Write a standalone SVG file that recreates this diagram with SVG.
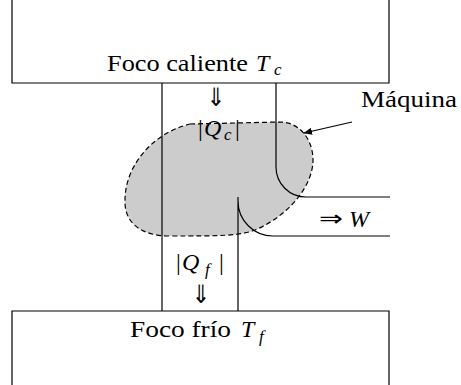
<svg xmlns="http://www.w3.org/2000/svg" width="461" height="385" viewBox="0 0 461 385">
<style>
.ln{fill:none;stroke:#000;stroke-width:1.2}
.t{font-family:"Liberation Serif",serif;font-size:24px;fill:#000}
.i{font-style:italic}
.s{font-family:"Liberation Serif",serif;font-size:17px;font-style:italic;fill:#000}
.ar{font-family:"DejaVu Sans",sans-serif;font-size:22px;fill:#000}
</style>
<defs>
<marker id="ah" viewBox="0 0 10 10" refX="9" refY="5" markerWidth="9" markerHeight="9" markerUnits="userSpaceOnUse" orient="auto">
<path d="M0,1 L10,5 L0,9 Z" fill="#000"/>
</marker>
</defs>
<g id="maquina">
<path d="M190,124 L280,122 C300,122 313,140 313,160 C313,185 290,215 255,230 C240,236 220,236 170,236 C140,236 124,222 125,200 C125,168 150,134 190,124 Z" fill="#cccccc" stroke="#000" stroke-width="1.2" stroke-dasharray="5,3"/>
</g>
<g id="foco-caliente">
<path class="ln" d="M12,-5 V83 H389 V-5"/>
<text class="t" x="107" y="71" textLength="141" lengthAdjust="spacingAndGlyphs">Foco caliente</text>
<text class="t i" x="256" y="71">T</text>
<text class="s" x="274" y="75">c</text>
</g>
<g id="foco-frio">
<path class="ln" d="M12,390 V311 H389 V390"/>
<text class="t" x="130" y="337" textLength="101" lengthAdjust="spacingAndGlyphs">Foco frío</text>
<text class="t i" x="241" y="337">T</text>
<text class="s" x="259" y="342">f</text>
</g>
<g id="connectors">
<path class="ln" d="M162,83 V311"/>
<path class="ln" d="M276,83 V167 A30,30 0 0 0 306,197 H390"/>
<path class="ln" d="M238,311 V197 M238,201 A35,35 0 0 0 273,236 H390"/>
<path class="ln" d="M352,122 L304,133" marker-end="url(#ah)"/>
</g>
<g id="labels">
<text class="t" x="361" y="107" textLength="96" lengthAdjust="spacingAndGlyphs">Máquina</text>
<text class="ar" transform="translate(216,106) scale(1,1.15)" text-anchor="middle">⇓</text>
<text class="t" x="198" y="136">|</text>
<text class="t i" x="204" y="136">Q</text>
<text class="s" x="224" y="140">c</text>
<text class="t" x="235" y="136">|</text>
<text class="ar" transform="translate(331,226) scale(1.3,1)" text-anchor="middle">⇒</text>
<text class="t i" x="349" y="227">W</text>
<text class="t" x="176" y="270">|</text>
<text class="t i" x="182" y="270">Q</text>
<text class="s" x="205" y="275">f</text>
<text class="t" x="219" y="270">|</text>
<text class="ar" transform="translate(201,303) scale(1,1.15)" text-anchor="middle">⇓</text>
</g>
</svg>
